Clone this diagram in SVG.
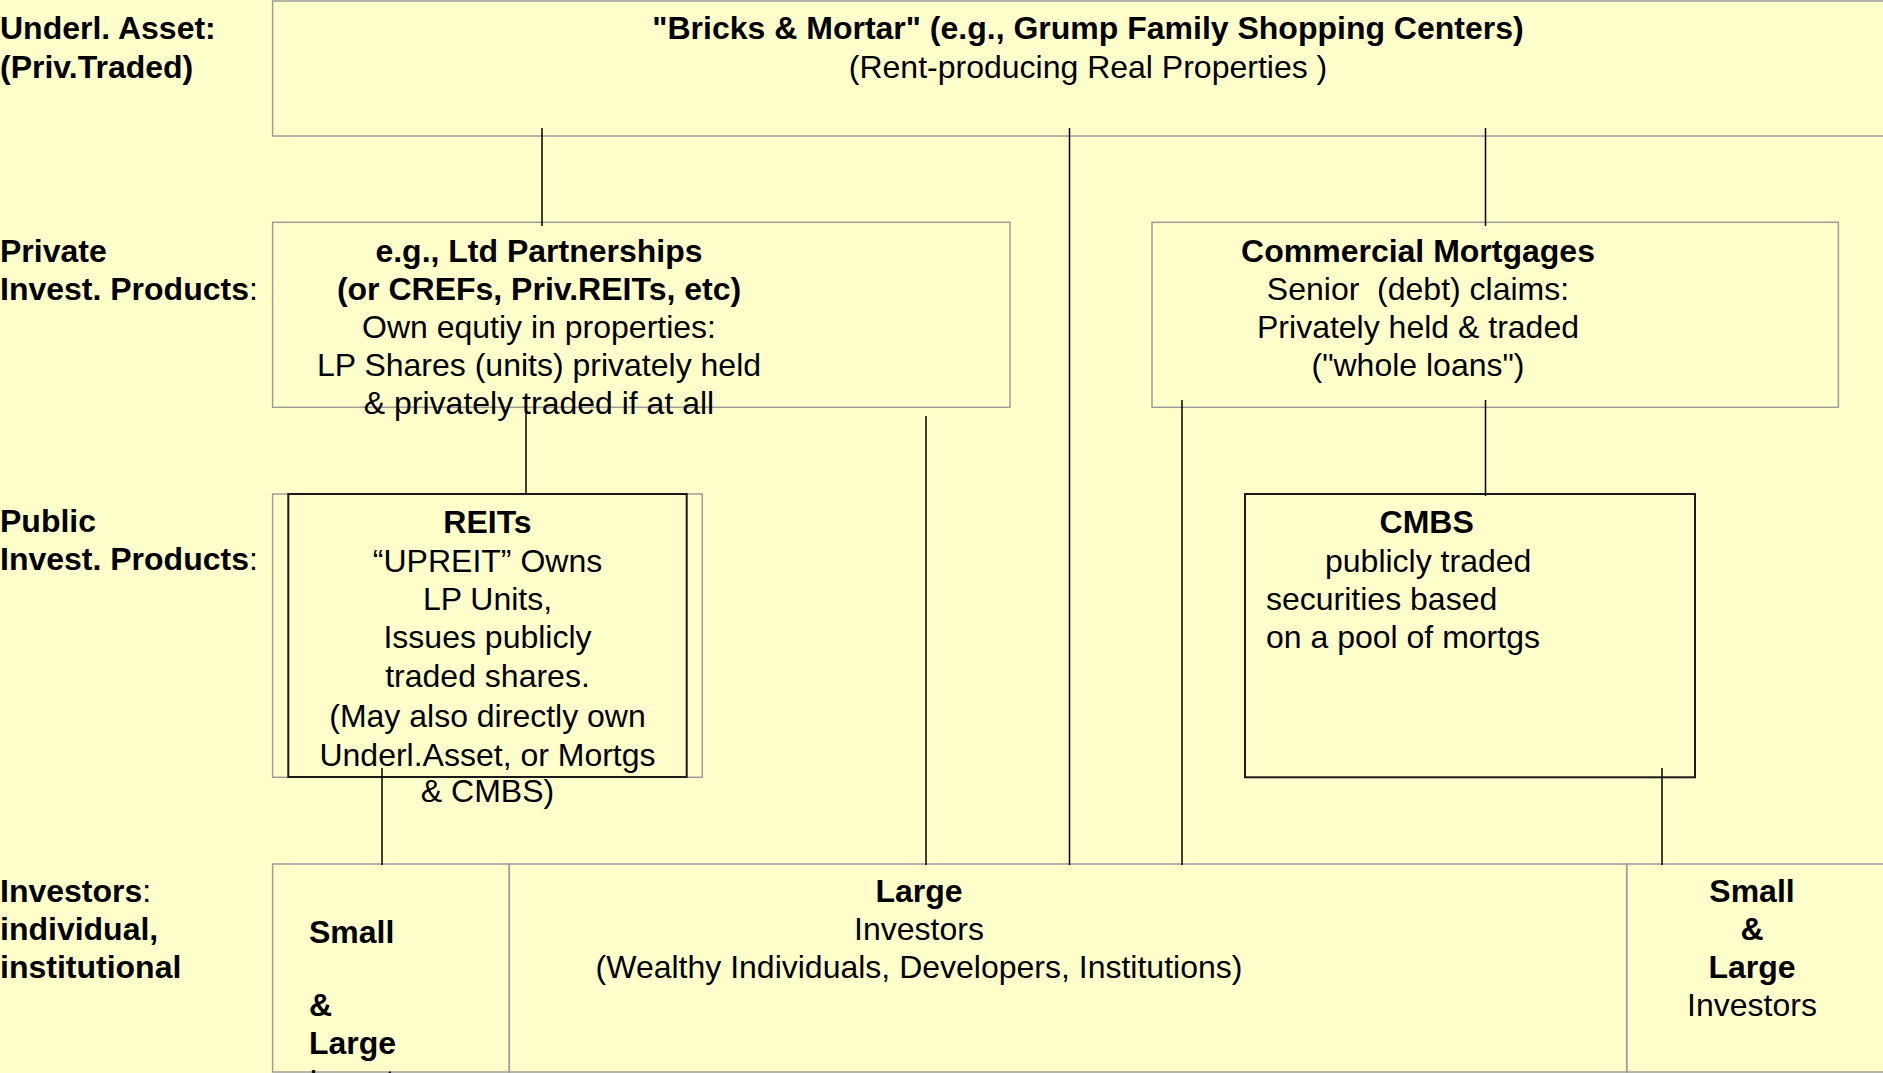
<svg xmlns="http://www.w3.org/2000/svg" width="1883" height="1073" viewBox="0 0 1883 1073">
<style>
.box{fill:none;stroke:#9c9c9c;stroke-width:1.5}
.dbox{fill:none;stroke:#1a1a1a;stroke-width:2}
.conn line{stroke:#000;stroke-width:1.5}
text{font-family:"Liberation Sans",Arial,Helvetica,sans-serif;font-size:32px;fill:#000;white-space:pre}
.b{font-weight:bold}
.r{font-weight:normal}
.m{text-anchor:middle}
</style>
<rect x="0" y="0" width="1883" height="1073" fill="#FFFFCC"/>
<g id="labels">
<text class="b" x="0" y="38.5">Underl. Asset:</text>
<text class="b" x="0" y="78">(Priv.Traded)</text>
<text class="b" x="0" y="261.5">Private</text>
<text class="b" x="0" y="300">Invest. Products<tspan class="r">:</tspan></text>
<text class="b" x="0" y="532">Public</text>
<text class="b" x="0" y="570">Invest. Products<tspan class="r">:</tspan></text>
<text class="b" x="0" y="902">Investors<tspan class="r">:</tspan></text>
<text class="b" x="0" y="940">individual,</text>
<text class="b" x="0" y="978">institutional</text>
</g>
<g id="underlying">
<rect class="box" x="272.6" y="1" width="1700" height="135"/>
<text class="b m" x="1088" y="38.5">"Bricks &amp; Mortar" (e.g., Grump Family Shopping Centers)</text>
<text class="m" x="1088" y="77.5">(Rent-producing Real Properties )</text>
</g>
<g id="ltd-partnerships">
<rect class="box" x="272.6" y="222.3" width="737.4" height="185"/>
<text class="b m" x="539" y="261.5">e.g., Ltd Partnerships</text>
<text class="b m" x="539" y="300">(or CREFs, Priv.REITs, etc)</text>
<text class="m" x="539" y="338">Own equtiy in properties:</text>
<text class="m" x="539" y="376">LP Shares (units) privately held</text>
<text class="m" x="539" y="414">&amp; privately traded if at all</text>
</g>
<g id="commercial-mortgages">
<rect class="box" x="1152" y="222.3" width="686.4" height="185"/>
<text class="b m" x="1418" y="261.5">Commercial Mortgages</text>
<text class="m" x="1418" y="300">Senior  (debt) claims:</text>
<text class="m" x="1418" y="338">Privately held &amp; traded</text>
<text class="m" x="1418" y="376">("whole loans")</text>
</g>
<g id="reits">
<rect class="box" x="272.6" y="494" width="429.7" height="283.3"/>
<rect class="dbox" x="288.3" y="494" width="398.4" height="283"/>
<text class="b m" x="487.5" y="533">REITs</text>
<text class="m" x="487.5" y="571.5">“UPREIT” Owns</text>
<text class="m" x="487.5" y="609.5">LP Units,</text>
<text class="m" x="487.5" y="647.5">Issues publicly</text>
<text class="m" x="487.5" y="686.5">traded shares.</text>
<text class="m" x="487.5" y="727">(May also directly own</text>
<text class="m" x="487.5" y="765.5">Underl.Asset, or Mortgs</text>
<text class="m" x="487.5" y="802">&amp; CMBS)</text>
</g>
<g id="cmbs">
<rect class="dbox" x="1245" y="494" width="450" height="283.3"/>
<text class="b m" x="1426.7" y="532.5">CMBS</text>
<text x="1325" y="571.5">publicly traded</text>
<text x="1266" y="609.5">securities based</text>
<text x="1266" y="647.5">on a pool of mortgs</text>
</g>
<g id="investors-small-large">
<rect class="box" x="272.6" y="864" width="236.7" height="208"/>
<text class="b" x="309" y="942.5">Small</text>
<text class="b" x="309" y="1016">&amp;</text>
<text class="b" x="309" y="1054">Large</text>
<text x="309" y="1092">Investors</text>
</g>
<g id="investors-large">
<rect class="box" x="509.3" y="864" width="1117.4" height="208"/>
<text class="b m" x="919" y="901.7">Large</text>
<text class="m" x="919" y="940">Investors</text>
<text class="m" x="919" y="977.5">(Wealthy Individuals, Developers, Institutions)</text>
</g>
<g id="investors-small-large-2">
<rect class="box" x="1626.7" y="864" width="300" height="208"/>
<text class="b m" x="1752" y="901.7">Small</text>
<text class="b m" x="1752" y="939.5">&amp;</text>
<text class="b m" x="1752" y="978">Large</text>
<text class="m" x="1752" y="1015.7">Investors</text>
</g>
<g id="connectors" class="conn">
<line x1="542" y1="128" x2="542" y2="226"/>
<line x1="1069.5" y1="128" x2="1069.5" y2="865"/>
<line x1="1485.5" y1="128" x2="1485.5" y2="226"/>
<line x1="526" y1="410" x2="526" y2="494"/>
<line x1="926" y1="416" x2="926" y2="865"/>
<line x1="1182" y1="400" x2="1182" y2="865"/>
<line x1="1485.5" y1="400" x2="1485.5" y2="496"/>
<line x1="382" y1="768" x2="382" y2="865"/>
<line x1="1662" y1="768" x2="1662" y2="865"/>
</g>
</svg>
